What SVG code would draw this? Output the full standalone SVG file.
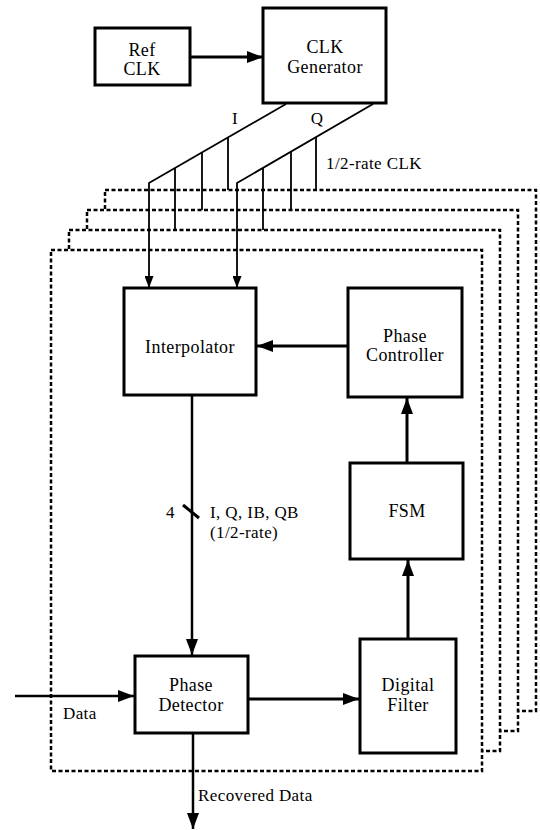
<svg xmlns="http://www.w3.org/2000/svg" width="540" height="830" viewBox="0 0 540 830">
<defs>
<style>
.box{fill:#fff;stroke:#000;stroke-width:3}
.lane{fill:#fff;stroke:#000;stroke-width:2.5;stroke-dasharray:4 2.5}
text{font-family:'Liberation Serif','Times New Roman',serif;font-size:18px;fill:#000;letter-spacing:0.4px}
.m{text-anchor:middle}
.s{font-size:17px}
.thick{stroke:#000;stroke-width:3;fill:none}
.mid{stroke:#000;stroke-width:2.5;fill:none}
.thin{stroke:#000;stroke-width:1.8;fill:none}
</style>
<marker id="ah" markerUnits="userSpaceOnUse" viewBox="0 0 16 12" markerWidth="16" markerHeight="12" refX="16" refY="6" orient="auto">
<path d="M0,0 L16,6 L0,12 z" fill="#000"/>
</marker>
<marker id="as" markerUnits="userSpaceOnUse" viewBox="0 0 12 9" markerWidth="12" markerHeight="9" refX="12" refY="4.5" orient="auto">
<path d="M0,0 L12,4.5 L0,9 z" fill="#000"/>
</marker>
</defs>

<g id="lanes">
<rect class="lane" x="105" y="190" width="431" height="521"/>
<rect class="lane" x="87" y="210" width="431" height="521"/>
<rect class="lane" x="69" y="230" width="431" height="521"/>
<rect class="lane" x="51" y="250" width="431" height="521"/>
</g>

<g id="refclk" font-family="Liberation Serif, serif">
<rect class="box" x="95" y="28" width="95" height="57"/>
<text class="m" x="142" y="56">Ref</text>
<text class="m" x="142" y="75">CLK</text>
</g>
<g id="clkgen" font-family="Liberation Serif, serif">
<rect class="box" x="263" y="8" width="123" height="95"/>
<text class="m" x="325" y="53">CLK</text>
<text class="m" x="325" y="73">Generator</text>
</g>
<g id="interpolator" font-family="Liberation Serif, serif">
<rect class="box" x="124" y="288" width="132" height="107"/>
<text class="m" x="190" y="353">Interpolator</text>
</g>
<g id="phasecontroller" font-family="Liberation Serif, serif">
<rect class="box" x="348" y="288" width="114" height="109"/>
<text class="m" x="405" y="342">Phase</text>
<text class="m" x="405" y="361">Controller</text>
</g>
<g id="fsm" font-family="Liberation Serif, serif">
<rect class="box" x="350" y="463" width="113" height="96"/>
<text class="m" x="407" y="517">FSM</text>
</g>
<g id="digitalfilter" font-family="Liberation Serif, serif">
<rect class="box" x="360" y="639" width="96" height="114"/>
<text class="m" x="408" y="691">Digital</text>
<text class="m" x="408" y="711">Filter</text>
</g>
<g id="phasedetector" font-family="Liberation Serif, serif">
<rect class="box" x="135" y="656" width="113" height="77"/>
<text class="m" x="191" y="691">Phase</text>
<text class="m" x="191" y="711">Detector</text>
</g>

<g id="connectors">
<line class="thick" x1="190" y1="57" x2="263" y2="57" marker-end="url(#ah)"/>
<polyline class="thin" points="286,104 149,183 149,288" marker-end="url(#as)"/>
<polyline class="thin" points="373,104 237,183 237,288" marker-end="url(#as)"/>
<line class="thin" x1="175" y1="168" x2="175" y2="230"/>
<line class="thin" x1="202" y1="152.4" x2="202" y2="210"/>
<line class="thin" x1="228" y1="137.4" x2="228" y2="190"/>
<line class="thin" x1="263" y1="168" x2="263" y2="230"/>
<line class="thin" x1="291" y1="151.6" x2="291" y2="210"/>
<line class="thin" x1="316" y1="137" x2="316" y2="190"/>
<line class="thick" x1="348" y1="346" x2="257" y2="346" marker-end="url(#ah)"/>
<line class="thick" x1="407" y1="463" x2="407" y2="398" marker-end="url(#ah)"/>
<line class="thick" x1="408" y1="639" x2="408" y2="560" marker-end="url(#ah)"/>
<line class="mid" x1="192" y1="395" x2="192" y2="655" marker-end="url(#ah)"/>
<line class="thick" x1="183" y1="505" x2="199" y2="518"/>
<line class="thick" x1="248" y1="699" x2="359" y2="699" marker-end="url(#ah)"/>
<line class="mid" x1="15" y1="696" x2="134" y2="696" marker-end="url(#ah)"/>
<line class="mid" x1="193" y1="733" x2="193" y2="829" marker-end="url(#ah)"/>
</g>

<g id="labels" font-family="Liberation Serif, serif">
<text class="m s" x="235" y="124">I</text>
<text class="m s" x="317" y="124">Q</text>
<text class="s" x="326" y="169">1/2-rate CLK</text>
<text class="s" x="166" y="518">4</text>
<text class="s" x="210" y="518">I, Q, IB, QB</text>
<text class="s" x="210" y="538">(1/2-rate)</text>
<text class="s" x="63" y="719">Data</text>
<text class="s" x="198" y="801">Recovered Data</text>
</g>
</svg>
